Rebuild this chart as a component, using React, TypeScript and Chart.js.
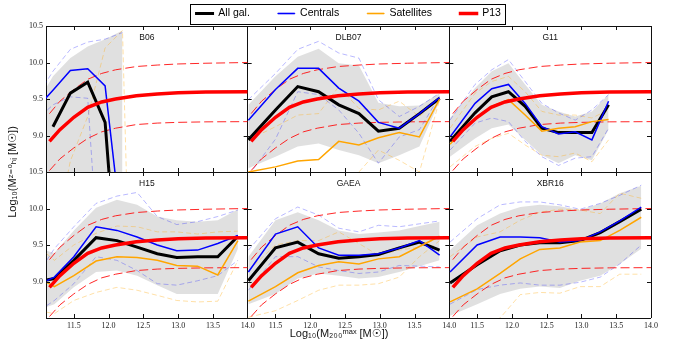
import React, { useEffect, useRef } from 'react';
import { Chart, registerables } from 'chart.js';

Chart.register(...registerables);

// ---------- axes ----------
const X_MIN = 11.1;
const X_MAX = 14.0;
const Y_MIN = 8.5;
const Y_MAX = 10.5;
const X_TICKS = [11.5, 12.0, 12.5, 13.0, 13.5, 14.0];
const X_TICK_LABELS = ['11.5', '12.0', '12.5', '13.0', '13.5', '14.0'];
const Y_TICKS = [8.5, 9.0, 9.5, 10.0, 10.5];
const Y_TICK_LABELS = ['', '9.0', '9.5', '10.0', '10.5'];

const PANEL_NAMES = ['B06', 'DLB07', 'G11', 'H15', 'GAEA', 'XBR16'];
const LEGEND_LABELS = ['All gal.', 'Centrals', 'Satellites', 'P13'];
const X_TITLE = 'Log₁₀(M₂₀₀ᵐᵃˣ [M☉])';
const Y_TITLE = 'Log₁₀(Mᶻ⁼⁰ₕᵢ [M☉])';

// ---------- P13 relation (same in every panel) ----------
const P13_X = [11.15, 11.3, 11.5, 11.7, 11.9, 12.1, 12.4, 12.7, 13.0, 13.4, 14.0];
const P13_MED = [8.92, 9.08, 9.25, 9.385, 9.46, 9.5, 9.545, 9.57, 9.585, 9.595, 9.6];
const P13_HI = [9.3, 9.47, 9.63, 9.77, 9.85, 9.9, 9.945, 9.965, 9.98, 9.99, 10.0];
const P13_LO = [8.52, 8.68, 8.83, 8.96, 9.05, 9.1, 9.15, 9.17, 9.18, 9.187, 9.19];

// ---------- B06 ----------
const B06_X = [10.95, 11.2, 11.45, 11.7, 11.95, 12.2, 12.45];
const B06_ALL = [null, 9.12, 9.58, 9.73, 9.18, 6.1, null];
const B06_CEN = [9.36, 9.62, 9.89, 9.915, 9.68, 7.6, null];
const B06_SAT = [null, null, null, null, null, null, null];
const B06_G_LO = [8.5, 8.5, 8.5, 8.5, 8.5, 8.5, null];
const B06_G_HI = [9.41, 9.81, 10.06, 10.22, 10.32, 10.44, null];
const B06_C_HI = [9.5, 9.88, 10.18, 10.28, 10.32, 10.41, null];
const B06_C_LO = [9.2, 9.42, 9.53, 9.51, 5.9, 5.5, null];
const B06_S_HI = [null, 7.5, 8.65, 9.26, 10.2, 10.44, 1.6];
const B06_S_LO = [null, null, null, null, null, null, null];

// ---------- DLB07 ----------
const DLB07_X = [11.11, 11.5, 11.82, 12.12, 12.41, 12.7, 12.98, 13.28, 13.57, 13.86];
const DLB07_ALL = [8.94, 9.35, 9.67, 9.6, 9.42, 9.3, 9.06, 9.1, 9.3, 9.51];
const DLB07_CEN = [9.21, 9.63, 9.92, 9.92, 9.65, 9.47, 9.18, 9.1, 9.3, 9.52];
const DLB07_SAT = [8.5, 8.57, 8.65, 8.67, 8.92, 8.87, 8.97, 9.04, 8.98, 9.5];
const DLB07_G_LO = [8.55, 8.71, 8.85, 8.89, 8.8, 8.73, 8.62, 8.73, 8.85, 9.47];
const DLB07_G_HI = [9.42, 9.81, 10.08, 10.19, 9.99, 9.96, 9.45, 9.4, 9.41, 9.58];
const DLB07_C_HI = [9.49, 9.85, 10.18, 10.29, 10.13, 10.06, 9.49, 9.26, 9.4, 9.58];
const DLB07_C_LO = [8.45, 8.95, 9.6, 9.56, 9.35, 9.03, 8.62, 8.98, 9.08, 9.54];
const DLB07_S_HI = [8.94, 9.12, 9.28, 9.3, 9.67, 9.37, 9.35, 9.47, 9.26, 9.51];
const DLB07_S_LO = [7.9, 8.0, 8.1, 8.2, 8.39, 8.5, 8.8, 8.66, 8.5, 9.49];

// ---------- G11 ----------
const G11_X = [11.11, 11.47, 11.71, 11.95, 12.19, 12.43, 12.67, 12.91, 13.15, 13.39];
const G11_ALL = [8.92, 9.31, 9.53, 9.6, 9.4, 9.1, 9.04, 9.04, 9.04, 9.42];
const G11_CEN = [8.98, 9.44, 9.64, 9.7, 9.44, 9.12, 9.02, 9.05, 8.94, 9.47];
const G11_SAT = [8.88, 9.24, 9.4, 9.49, 9.28, 9.06, 9.1, 9.12, 9.19, 9.22];
const G11_G_LO = [8.71, 8.96, 9.1, 9.15, 8.94, 8.73, 8.62, 8.73, 8.66, 9.08];
const G11_G_HI = [9.24, 9.65, 9.88, 9.99, 9.7, 9.42, 9.33, 9.26, 9.33, 9.56];
const G11_C_HI = [9.21, 9.7, 9.9, 10.04, 9.74, 9.44, 9.31, 9.21, 9.35, 9.56];
const G11_C_LO = [8.8, 9.17, 9.24, 9.19, 8.92, 8.71, 8.59, 8.69, 8.71, 9.1];
const G11_S_HI = [9.1, 9.58, 9.74, 9.81, 9.6, 9.33, 9.28, 9.28, 9.24, 9.35];
const G11_S_LO = [8.57, 8.85, 8.96, 9.03, 8.87, 8.73, 8.71, 8.76, 8.64, 8.94];

// ---------- H15 ----------
const H15_X = [11.11, 11.22, 11.5, 11.82, 12.12, 12.41, 12.7, 12.98, 13.28, 13.57, 13.86];
const H15_ALL = [9.02, 9.04, 9.29, 9.6, 9.56, 9.47, 9.38, 9.33, 9.34, 9.34, 9.62];
const H15_CEN = [9.01, 9.06, 9.34, 9.75, 9.7, 9.61, 9.5, 9.42, 9.43, 9.52, 9.63];
const H15_SAT = [8.99, 8.93, 9.08, 9.28, 9.34, 9.33, 9.29, 9.22, 9.21, 9.09, 9.56];
const H15_G_LO = [8.65, 8.69, 8.92, 9.13, 9.15, 9.08, 8.95, 8.83, 8.83, 8.83, 9.45];
const H15_G_HI = [9.42, 9.39, 9.7, 10.01, 10.12, 10.05, 9.89, 9.84, 9.82, 9.84, 9.99];
const H15_C_HI = [9.29, 9.45, 9.75, 10.07, 10.17, 10.22, 9.89, 9.78, 9.82, 9.89, 9.98];
const H15_C_LO = [8.67, 8.74, 8.97, 9.34, 9.29, 9.15, 8.97, 8.95, 9.01, 9.08, 9.29];
const H15_S_HI = [9.38, 9.29, 9.5, 9.66, 9.76, 9.75, 9.68, 9.68, 9.65, 9.68, 9.69];
const H15_S_LO = [8.58, 8.56, 8.74, 8.85, 8.92, 8.88, 8.81, 8.74, 8.72, 8.73, 9.29];

// ---------- GAEA ----------
const GAEA_X = [11.11, 11.5, 11.82, 12.12, 12.41, 12.7, 12.98, 13.28, 13.57, 13.86];
const GAEA_ALL = [9.01, 9.46, 9.54, 9.38, 9.32, 9.34, 9.37, 9.46, 9.54, 9.43];
const GAEA_CEN = [9.13, 9.65, 9.75, 9.46, 9.36, 9.36, 9.38, 9.46, 9.56, 9.36];
const GAEA_SAT = [8.73, 8.93, 9.12, 9.22, 9.27, 9.24, 9.31, 9.34, 9.48, 9.62];
const GAEA_G_LO = [8.69, 8.83, 9.04, 9.11, 9.08, 9.04, 9.06, 9.13, 9.21, 9.29];
const GAEA_G_HI = [9.34, 9.84, 9.95, 9.84, 9.7, 9.65, 9.67, 9.7, 9.76, 9.82];
const GAEA_C_HI = [9.43, 9.86, 10.02, 9.91, 9.73, 9.68, 9.77, 9.75, 9.79, 9.83];
const GAEA_C_LO = [8.88, 9.34, 9.34, 9.2, 9.15, 9.11, 9.13, 9.22, 9.21, 9.2];
const GAEA_S_HI = [9.15, 9.5, 9.56, 9.56, 9.68, 9.52, 9.36, 9.43, 9.47, 9.61];
const GAEA_S_LO = [8.51, 8.6, 8.74, 8.88, 8.95, 8.95, 8.97, 9.06, 9.34, 9.56];

// ---------- XBR16 ----------
const XBR16_X = [11.11, 11.5, 11.83, 12.12, 12.4, 12.69, 12.98, 13.27, 13.55, 13.86];
const XBR16_ALL = [8.98, 9.23, 9.42, 9.5, 9.53, 9.53, 9.56, 9.67, 9.82, 9.99];
const XBR16_CEN = [9.13, 9.5, 9.61, 9.61, 9.6, 9.54, 9.56, 9.68, 9.83, 10.02];
const XBR16_SAT = [8.72, 8.9, 9.11, 9.31, 9.44, 9.46, 9.54, 9.56, 9.7, 9.88];
const XBR16_G_LO = [8.53, 8.69, 8.83, 8.9, 8.93, 8.91, 9.01, 9.08, 9.24, 9.45];
const XBR16_G_HI = [9.43, 9.77, 9.93, 10.02, 10.05, 10.03, 9.98, 10.07, 10.21, 10.31];
const XBR16_C_HI = [9.54, 9.86, 10.05, 10.09, 10.09, 10.05, 9.99, 10.07, 10.18, 10.32];
const XBR16_C_LO = [8.69, 8.89, 8.95, 8.98, 8.95, 8.95, 8.99, 9.06, 9.24, 9.5];
const XBR16_S_HI = [9.34, 9.61, 9.68, 9.84, 9.95, 9.99, 9.98, 9.93, 10.21, 10.14];
const XBR16_S_LO = [8.3, 8.4, 8.5, 8.82, 8.85, 8.84, 8.93, 8.93, 9.1, 9.1];

const PANELS = [
  { x: B06_X, all: B06_ALL, cen: B06_CEN, sat: B06_SAT, gLo: B06_G_LO, gHi: B06_G_HI, cHi: B06_C_HI, cLo: B06_C_LO, sHi: B06_S_HI, sLo: B06_S_LO },
  { x: DLB07_X, all: DLB07_ALL, cen: DLB07_CEN, sat: DLB07_SAT, gLo: DLB07_G_LO, gHi: DLB07_G_HI, cHi: DLB07_C_HI, cLo: DLB07_C_LO, sHi: DLB07_S_HI, sLo: DLB07_S_LO },
  { x: G11_X, all: G11_ALL, cen: G11_CEN, sat: G11_SAT, gLo: G11_G_LO, gHi: G11_G_HI, cHi: G11_C_HI, cLo: G11_C_LO, sHi: G11_S_HI, sLo: G11_S_LO },
  { x: H15_X, all: H15_ALL, cen: H15_CEN, sat: H15_SAT, gLo: H15_G_LO, gHi: H15_G_HI, cHi: H15_C_HI, cLo: H15_C_LO, sHi: H15_S_HI, sLo: H15_S_LO },
  { x: GAEA_X, all: GAEA_ALL, cen: GAEA_CEN, sat: GAEA_SAT, gLo: GAEA_G_LO, gHi: GAEA_G_HI, cHi: GAEA_C_HI, cLo: GAEA_C_LO, sHi: GAEA_S_HI, sLo: GAEA_S_LO },
  { x: XBR16_X, all: XBR16_ALL, cen: XBR16_CEN, sat: XBR16_SAT, gLo: XBR16_G_LO, gHi: XBR16_G_HI, cHi: XBR16_C_HI, cLo: XBR16_C_LO, sHi: XBR16_S_HI, sLo: XBR16_S_LO },
];

// ---------- styles ----------
const C_ALL = '#000000';
const C_CEN = '#0000ff';
const C_SAT = '#ffa500';
const C_P13 = '#ff0000';
const C_P13_DASH = 'rgba(255,0,0,0.85)';
const C_CEN_LIGHT = 'rgba(0,0,255,0.28)';
const C_SAT_LIGHT = 'rgba(255,165,0,0.35)';
const C_FILL = 'rgba(0,0,0,0.12)';
const FRAME = '#111111';
const SANS = '"Liberation Sans", Arial, "DejaVu Sans", sans-serif';
const SERIF = '"Liberation Serif", "DejaVu Serif", serif';

function pts(xs: number[], ys: (number | null)[]) {
  return xs.map((x, i) => ({ x, y: ys[i] === undefined ? null : ys[i] }));
}

function buildDatasets() {
  const ds: any[] = [];
  PANELS.forEach((p, i) => {
    const base = {
      xAxisID: 'x' + (i % 3),
      yAxisID: 'y' + Math.floor(i / 3),
      pointRadius: 0,
      pointHoverRadius: 0,
      tension: 0,
      fill: false,
      spanGaps: false,
      label: '',
    };
    const first = i === 0;
    ds.push({ ...base, data: pts(p.x, p.gLo), borderWidth: 0, borderColor: 'rgba(0,0,0,0)', order: 20 });
    ds.push({ ...base, data: pts(p.x, p.gHi), borderWidth: 0, borderColor: 'rgba(0,0,0,0)', backgroundColor: C_FILL, fill: '-1', order: 20 });
    ds.push({ ...base, data: pts(p.x, p.cHi), borderColor: C_CEN_LIGHT, borderWidth: 1, borderDash: [5, 3], order: 15 });
    ds.push({ ...base, data: pts(p.x, p.cLo), borderColor: C_CEN_LIGHT, borderWidth: 1, borderDash: [5, 3], order: 15 });
    ds.push({ ...base, data: pts(p.x, p.sHi), borderColor: C_SAT_LIGHT, borderWidth: 1, borderDash: [5, 3], order: 15 });
    ds.push({ ...base, data: pts(p.x, p.sLo), borderColor: C_SAT_LIGHT, borderWidth: 1, borderDash: [5, 3], order: 15 });
    ds.push({ ...base, data: pts(P13_X, P13_HI), borderColor: C_P13_DASH, borderWidth: 1, borderDash: [9, 4], order: 9 });
    ds.push({ ...base, data: pts(P13_X, P13_LO), borderColor: C_P13_DASH, borderWidth: 1, borderDash: [9, 4], order: 9 });
    ds.push({ ...base, label: LEGEND_LABELS[0], inLegend: first, legendWidth: 2, data: pts(p.x, p.all), borderColor: C_ALL, borderWidth: 3, order: 7 });
    ds.push({ ...base, label: LEGEND_LABELS[1], inLegend: first, legendWidth: 0.6, data: pts(p.x, p.cen), borderColor: C_CEN, borderWidth: 1.5, order: 6 });
    ds.push({ ...base, label: LEGEND_LABELS[2], inLegend: first, legendWidth: 0.6, data: pts(p.x, p.sat), borderColor: C_SAT, borderWidth: 1.5, order: 5 });
    ds.push({ ...base, label: LEGEND_LABELS[3], inLegend: first, legendWidth: 2.5, data: pts(P13_X, P13_MED), borderColor: C_P13, borderWidth: 3.5, order: 4 });
  });
  return ds;
}

const near = (a: number, b: number) => Math.abs(a - b) < 1e-6;

function xAxis() {
  return {
    type: 'linear',
    axis: 'x',
    position: 'bottom',
    stack: 'cols',
    stackWeight: 1,
    weight: 0,
    min: X_MIN,
    max: X_MAX,
    z: 1,
    grid: {
      drawOnChartArea: true,
      drawTicks: false,
      lineWidth: 1,
      color: (c: any) => (c.tick && near(c.tick.value, X_MAX) ? FRAME : 'rgba(0,0,0,0)'),
    },
    border: { display: false },
    afterBuildTicks: (s: any) => {
      s.ticks = X_TICKS.map((v) => ({ value: v }));
    },
    ticks: {
      autoSkip: false,
      maxRotation: 0,
      minRotation: 0,
      padding: 3,
      color: '#222',
      font: { family: SERIF, size: 8 },
      callback: (v: number) => {
        const k = X_TICKS.findIndex((t) => near(t, v));
        return k >= 0 ? X_TICK_LABELS[k] : '';
      },
    },
    afterFit: (s: any) => {
      s.height = 12;
      s.paddingLeft = 0;
      s.paddingRight = 0;
    },
  };
}

function yAxis(weight: number) {
  return {
    type: 'linear',
    axis: 'y',
    position: 'left',
    stack: 'rows',
    stackWeight: 1,
    weight,
    min: Y_MIN,
    max: Y_MAX,
    z: 1,
    grid: {
      drawOnChartArea: true,
      drawTicks: false,
      lineWidth: 1,
      color: (c: any) => (c.tick && (near(c.tick.value, Y_MIN) || near(c.tick.value, Y_MAX)) ? FRAME : 'rgba(0,0,0,0)'),
    },
    border: { display: true, color: FRAME, width: 1 },
    afterBuildTicks: (s: any) => {
      s.ticks = Y_TICKS.map((v) => ({ value: v }));
    },
    ticks: {
      autoSkip: false,
      padding: 3,
      color: '#222',
      font: { family: SERIF, size: 8 },
      callback: (v: number) => {
        const k = Y_TICKS.findIndex((t) => near(t, v));
        return k >= 0 ? Y_TICK_LABELS[k] : '';
      },
    },
    afterFit: (s: any) => {
      s.width = 18;
      s.paddingTop = 0;
      s.paddingBottom = 0;
    },
  };
}

const hiddenAxisParts = {
  grid: { display: false, drawTicks: false },
  border: { display: false },
  ticks: { display: false },
};

const panelDecor = {
  id: 'panelDecor',
  afterDraw(chart: any) {
    const ctx = chart.ctx;
    PANEL_NAMES.forEach((name, i) => {
      const xs = chart.scales['x' + (i % 3)];
      const ys = chart.scales['y' + Math.floor(i / 3)];
      if (!xs || !ys) return;
      ctx.save();
      ctx.strokeStyle = FRAME;
      ctx.lineWidth = 1;
      ctx.beginPath();
      xs.ticks.forEach((t: any) => {
        if (t.value <= X_MIN || near(t.value, X_MAX)) return;
        const px = Math.round(xs.getPixelForValue(t.value)) + 0.5;
        ctx.moveTo(px, ys.top);
        ctx.lineTo(px, ys.top + 4);
        ctx.moveTo(px, ys.bottom);
        ctx.lineTo(px, ys.bottom - 4);
      });
      ys.ticks.forEach((t: any) => {
        if (near(t.value, Y_MIN) || near(t.value, Y_MAX)) return;
        const py = Math.round(ys.getPixelForValue(t.value)) + 0.5;
        ctx.moveTo(xs.left, py);
        ctx.lineTo(xs.left + 4, py);
        ctx.moveTo(xs.right, py);
        ctx.lineTo(xs.right - 4, py);
      });
      ctx.stroke();
      ctx.fillStyle = '#111';
      ctx.font = '8.5px ' + SANS;
      ctx.textAlign = 'center';
      ctx.textBaseline = 'middle';
      ctx.fillText(name, (xs.left + xs.right) / 2, ys.top + 11.5);
      ctx.restore();
    });
  },
};

const legendFrame = {
  id: 'legendFrame',
  afterDraw(chart: any) {
    const hb = chart.legend && chart.legend.legendHitBoxes;
    if (!hb || !hb.length) return;
    const ctx = chart.ctx;
    const l = Math.min(...hb.map((h: any) => h.left)) - 6;
    const r = Math.max(...hb.map((h: any) => h.left + h.width)) + 4;
    const t = hb[0].top - 4;
    const b = hb[0].top + hb[0].height + 5;
    ctx.save();
    ctx.strokeStyle = '#000';
    ctx.lineWidth = 1;
    ctx.strokeRect(Math.round(l) + 0.5, Math.round(t) + 0.5, Math.round(r - l), Math.round(b - t));
    ctx.restore();
  },
};

export default function App() {
  const ref = useRef<HTMLCanvasElement>(null);
  useEffect(() => {
    if (!ref.current) return;
    const chart = new Chart(ref.current, {
      type: 'line',
      data: { datasets: buildDatasets() },
      options: {
        responsive: false,
        animation: false,
        devicePixelRatio: 1,
        events: [],
        layout: { padding: { top: -19.75, right: 0, bottom: 0, left: 0 } },
        plugins: {
          tooltip: { enabled: false },
          legend: {
            display: true,
            position: 'top',
            fullSize: false,
            maxHeight: 45.75,
            labels: {
              boxWidth: 17,
              boxHeight: 1,
              padding: 28,
              color: '#000',
              font: { family: SANS, size: 10.5 },
              generateLabels: (c: any) =>
                c.data.datasets
                  .map((d: any, idx: number) => ({ d, idx }))
                  .filter((o: any) => o.d.inLegend)
                  .map((o: any) => ({
                    text: o.d.label,
                    datasetIndex: o.idx,
                    fillStyle: o.d.borderColor,
                    strokeStyle: o.d.borderColor,
                    lineWidth: o.d.legendWidth,
                    lineDash: [],
                    hidden: false,
                    fontColor: '#000',
                  })),
            },
          },
        },
        scales: {
          x0: xAxis(),
          x1: xAxis(),
          x2: xAxis(),
          y0: yAxis(2),
          y1: yAxis(1),
          xt: {
            type: 'linear',
            axis: 'x',
            position: 'bottom',
            weight: 10,
            fullSize: true,
            min: 0,
            max: 1,
            ...hiddenAxisParts,
            title: {
              display: true,
              text: X_TITLE,
              color: '#111',
              font: { family: SANS, size: 11 },
              padding: { top: 0, bottom: 3 },
            },
            afterFit: (s: any) => {
              s.height = 14;
              s.paddingLeft = 0;
              s.paddingRight = 0;
            },
          },
          yt: {
            type: 'linear',
            axis: 'y',
            position: 'left',
            weight: 10,
            min: 0,
            max: 1,
            ...hiddenAxisParts,
            title: {
              display: true,
              text: Y_TITLE,
              color: '#111',
              font: { family: SANS, size: 11 },
              padding: { top: 6, bottom: 0 },
            },
            afterFit: (s: any) => {
              s.width = 28;
              s.paddingTop = 0;
              s.paddingBottom = 0;
            },
          },
          yr: {
            type: 'linear',
            axis: 'y',
            position: 'right',
            min: 0,
            max: 1,
            ...hiddenAxisParts,
            afterFit: (s: any) => {
              s.width = 27;
              s.paddingTop = 0;
              s.paddingBottom = 0;
            },
          },
        },
      } as any,
      plugins: [panelDecor, legendFrame],
    } as any);
    return () => chart.destroy();
  }, []);
  return (
    <div style={{ position: 'fixed', left: 0, top: 0, width: 678, height: 344, background: '#fff' }}>
      <canvas ref={ref} width={678} height={344} style={{ display: 'block', width: 678, height: 344 }} />
    </div>
  );
}
